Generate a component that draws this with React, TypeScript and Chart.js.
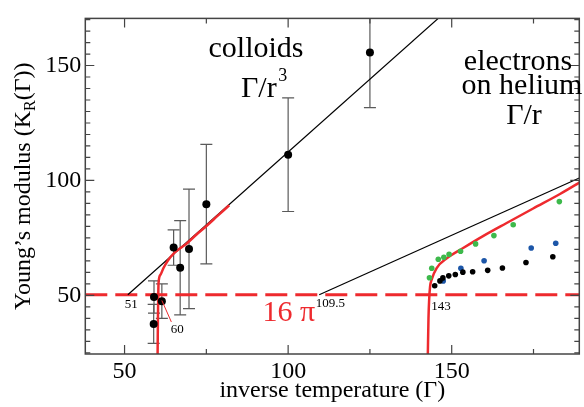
import React, { useEffect, useRef } from 'react';
import { Chart, registerables } from 'chart.js';

Chart.register(...registerables);

// ---------- axes ----------
const xRange = [38, 189];
const yRange = [24.5, 170.5];
const xMajorTicks = [50, 100, 150];
const xMinorTicks = [75, 125, 175];
const yMajorTicks = [50, 100, 150];
const yMinorTicks = [25, 30, 35, 40, 45, 55, 60, 65, 70, 75, 80, 85, 90, 95, 105, 110, 115, 120, 125, 130, 135, 140, 145, 155, 160, 165, 170];

// ---------- colloids (with error bars) ----------
const colloidGamma = [125, 100, 75, 69.7, 67, 65, 59, 61.4, 58.9];
const colloidK = [155.7, 111.2, 89.7, 70.2, 62, 70.8, 49.3, 47.5, 37.6];
const colloidErr = [24, 24.7, 26, 26, 20.5, 7.7, 7, 7.5, 8.5];

const colloidFitGamma = [51, 148];
const colloidFitK = [50.27, 173.2];

const colloidCurveGamma = [60.1, 60.2, 60.3, 60.4, 61, 61.9, 63.3, 65, 67, 69, 72, 75.2, 78.5, 82];
const colloidCurveK = [24.5, 40, 50.27, 55.6, 59, 61.9, 65.3, 68.2, 70.5, 72.6, 76.5, 80.4, 84.7, 89.2];

// ---------- electrons on helium ----------
const electronFitGamma = [109.5, 189];
const electronFitK = [50.27, 101.1];

const electronCurveGamma = [142.7, 142.9, 143.1, 143.4, 143.9, 145.4, 148.5, 153.5, 159.7, 166.8, 174.9, 183.1, 190];
const electronCurveK = [24.5, 40, 48, 54, 57, 61.9, 66.1, 70.6, 75.9, 81.5, 87.8, 94.1, 99.9];

const greenGamma = [143.2, 143.9, 145.9, 147.6, 149.2, 152.7, 157.3, 162.9, 168.8, 182.9];
const greenK = [57.7, 61.8, 65.7, 66.6, 67.9, 69.2, 72.4, 76, 80.7, 90.8];

const blueGamma = [147.4, 152.8, 159.9, 174.3, 181.8];
const blueK = [56.3, 61.8, 65.1, 70.6, 72.7];

const blackGamma = [144.8, 146.4, 147.3, 149.1, 151.1, 153.4, 156.4, 161, 165.5, 172.7, 180.9];
const blackK = [54.2, 56.3, 57.6, 58.5, 59.1, 60.1, 60.3, 60.9, 61.9, 64.3, 66.8];

// ---------- 16 pi line ----------
const sixteenPiGamma = [38, 189];
const sixteenPiK = [50.27, 50.27];

const RED = '#ee2a2e';
const AXIS = '#444';
const SERIF = '"Liberation Serif", "DejaVu Serif", serif';

const pts = (xs: number[], ys: number[]) => xs.map((v, i) => ({ x: v, y: ys[i] }));

const decor = {
  id: 'decor',
  beforeDatasetsDraw(chart: any) {
    const { ctx, chartArea: a, scales } = chart;
    const x = scales.x, y = scales.y;
    ctx.save();
    ctx.beginPath();
    ctx.rect(a.left, a.top, a.right - a.left, a.bottom - a.top);
    ctx.clip();
    ctx.strokeStyle = '#5a5a5a';
    ctx.lineWidth = 1.2;
    colloidGamma.forEach((g, i) => {
      const px = x.getPixelForValue(g);
      const t = y.getPixelForValue(colloidK[i] + colloidErr[i]);
      const b = y.getPixelForValue(colloidK[i] - colloidErr[i]);
      ctx.beginPath();
      ctx.moveTo(px, t); ctx.lineTo(px, b);
      ctx.moveTo(px - 6, t); ctx.lineTo(px + 6, t);
      ctx.moveTo(px - 6, b); ctx.lineTo(px + 6, b);
      ctx.stroke();
    });
    ctx.restore();
  },
  afterDraw(chart: any) {
    const { ctx, chartArea: a, scales } = chart;
    const x = scales.x, y = scales.y;
    ctx.save();
    // frame
    ctx.strokeStyle = AXIS;
    ctx.lineWidth = 1.5;
    ctx.strokeRect(a.left, a.top, a.right - a.left, a.bottom - a.top);
    // inward ticks
    ctx.lineWidth = 1.2;
    const tickX = (v: number, len: number) => {
      const p = x.getPixelForValue(v);
      ctx.beginPath();
      ctx.moveTo(p, a.bottom); ctx.lineTo(p, a.bottom - len);
      ctx.moveTo(p, a.top); ctx.lineTo(p, a.top + len);
      ctx.stroke();
    };
    const tickY = (v: number, len: number) => {
      const p = y.getPixelForValue(v);
      ctx.beginPath();
      ctx.moveTo(a.left, p); ctx.lineTo(a.left + len, p);
      ctx.moveTo(a.right, p); ctx.lineTo(a.right - len, p);
      ctx.stroke();
    };
    xMajorTicks.forEach(v => tickX(v, 9));
    xMinorTicks.forEach(v => tickX(v, 5));
    yMajorTicks.forEach(v => tickY(v, 9));
    yMinorTicks.forEach(v => tickY(v, 5));

    // y-axis title with subscript
    ctx.save();
    ctx.translate(30, (a.top + a.bottom) / 2);
    ctx.rotate(-Math.PI / 2);
    ctx.fillStyle = '#000';
    ctx.textBaseline = 'alphabetic';
    const big = `24px ${SERIF}`, small = `16px ${SERIF}`;
    const segs = [
      { t: 'Young’s modulus (K', f: big, dy: 0 },
      { t: 'R', f: small, dy: 5 },
      { t: '(Γ))', f: big, dy: 0 },
    ];
    let total = 0;
    segs.forEach(s => { ctx.font = s.f; total += ctx.measureText(s.t).width; });
    let cx = -total / 2;
    segs.forEach(s => { ctx.font = s.f; ctx.fillText(s.t, cx, s.dy); cx += ctx.measureText(s.t).width; });
    ctx.restore();

    // free text labels
    ctx.fillStyle = '#000';
    ctx.textBaseline = 'alphabetic';
    ctx.font = `30px ${SERIF}`;
    ctx.textAlign = 'center';
    ctx.fillText('colloids', 256, 57);
    ctx.textAlign = 'left';
    ctx.fillText('Γ/r', 241, 97);
    const w1 = ctx.measureText('Γ/r').width;
    ctx.font = `18px ${SERIF}`;
    ctx.fillText('3', 241 + w1 + 1.5, 81);

    ctx.font = `30px ${SERIF}`;
    ctx.textAlign = 'center';
    ctx.fillText('electrons', 518, 70);
    ctx.fillText('on helium', 522, 93.5);
    ctx.fillText('Γ/r', 524, 123.5);

    // value labels along 16 pi
    const y16 = y.getPixelForValue(sixteenPiK[0]);
    ctx.font = `13px ${SERIF}`;
    ctx.textAlign = 'left';
    ctx.textBaseline = 'top';
    ctx.fillText('51', x.getPixelForValue(colloidFitGamma[0]) - 3, y16 + 3);
    ctx.fillText('109.5', x.getPixelForValue(electronFitGamma[0]) - 3.5, y16 + 2);
    ctx.fillText('143', x.getPixelForValue(143) + 2.5, y16 + 5);

    // "60" pointer
    const px60 = x.getPixelForValue(61.4), py60 = y.getPixelForValue(47.8);
    ctx.strokeStyle = RED;
    ctx.lineWidth = 1;
    ctx.beginPath();
    ctx.moveTo(px60, py60);
    ctx.lineTo(px60 + 9.5, py60 + 21.5);
    ctx.stroke();
    ctx.fillText('60', px60 + 9, py60 + 22.5);

    // 16 pi label
    ctx.fillStyle = RED;
    ctx.font = `30px ${SERIF}`;
    ctx.textAlign = 'right';
    ctx.textBaseline = 'alphabetic';
    ctx.fillText('16 π', x.getPixelForValue(electronFitGamma[0]) - 4, y16 + 26);
    ctx.restore();
  },
};

export default function App() {
  const ref = useRef<HTMLCanvasElement>(null);
  useEffect(() => {
    const line = (xs: number[], ys: number[], color: string, width: number, extra: any = {}) => ({
      data: pts(xs, ys),
      showLine: true,
      borderColor: color,
      backgroundColor: color,
      borderWidth: width,
      pointRadius: 0,
      ...extra,
    });
    const dots = (xs: number[], ys: number[], color: string, r: number) => ({
      data: pts(xs, ys),
      showLine: false,
      pointRadius: r,
      pointBorderWidth: 0,
      backgroundColor: color,
      borderColor: color,
    });
    const chart = new Chart(ref.current as HTMLCanvasElement, {
      type: 'scatter',
      data: {
        datasets: [
          dots(colloidGamma, colloidK, '#000', 4),
          dots(blackGamma, blackK, '#000', 2.8),
          dots(blueGamma, blueK, '#1c56a8', 2.8),
          dots(greenGamma, greenK, '#3db94b', 2.8),
          line(colloidCurveGamma, colloidCurveK, RED, 2.5, { cubicInterpolationMode: 'monotone' }),
          line(electronCurveGamma, electronCurveK, RED, 2.5, { cubicInterpolationMode: 'monotone' }),
          line(colloidFitGamma, colloidFitK, '#000', 1.2),
          line(electronFitGamma, electronFitK, '#000', 1.2),
          line(sixteenPiGamma, sixteenPiK, RED, 3, { borderDash: [22, 8] }),
        ] as any,
      },
      options: {
        animation: false,
        responsive: true,
        maintainAspectRatio: false,
        layout: { padding: { left: 0, right: 4.7, top: 6, bottom: 0 } },
        plugins: { legend: { display: false }, tooltip: { enabled: false } },
        scales: {
          x: {
            type: 'linear',
            min: xRange[0],
            max: xRange[1],
            grid: { display: false, drawTicks: false },
            border: { display: false },
            afterBuildTicks: (s: any) => { s.ticks = xMajorTicks.map(v => ({ value: v })); },
            afterFit: (s: any) => { s.height = 53; },
            ticks: { color: '#000', font: { family: SERIF, size: 24 }, padding: 3, maxRotation: 0 },
            title: {
              display: true,
              text: 'inverse temperature (Γ)',
              color: '#000',
              font: { family: SERIF, size: 24 },
              padding: { top: 0, bottom: 2 },
            },
          },
          y: {
            type: 'linear',
            min: yRange[0],
            max: yRange[1],
            grid: { display: false, drawTicks: false },
            border: { display: false },
            afterBuildTicks: (s: any) => { s.ticks = yMajorTicks.map(v => ({ value: v })); },
            afterFit: (s: any) => { s.width = 85.3; },
            ticks: { color: '#000', font: { family: SERIF, size: 24 }, padding: 4 },
          },
        },
      } as any,
      plugins: [decor],
    });
    return () => chart.destroy();
  }, []);
  return (
    <div style={{ position: 'fixed', left: 0, top: 0, width: 584, height: 407, background: '#fff' }}>
      <canvas ref={ref} />
    </div>
  );
}
